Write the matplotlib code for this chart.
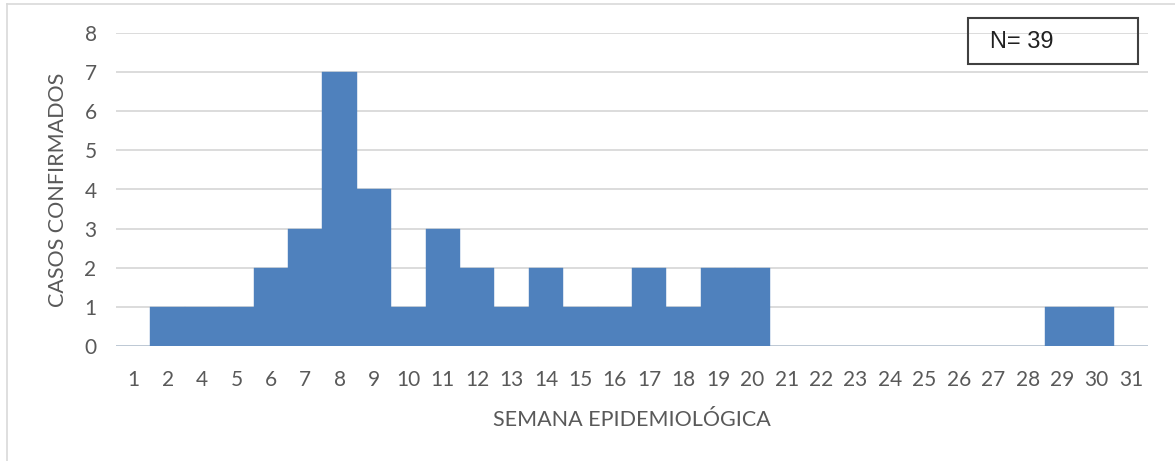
import matplotlib
matplotlib.use("Agg")
import matplotlib.pyplot as plt
from matplotlib.lines import Line2D

weeks = ["1", "2", "4", "5", "6", "7", "8", "9", "10", "11", "12", "13", "14", "15", "16",
         "17", "18", "19", "20", "21", "22", "23", "24", "25", "26", "27", "28", "29", "30", "31"]
cases = [0, 1, 1, 1, 2, 3, 7, 4, 1, 3, 2, 1, 2, 1, 1,
         2, 1, 2, 2, 0, 0, 0, 0, 0, 0, 0, 0, 1, 1, 0]
y_ticks = [0, 1, 2, 3, 4, 5, 6, 7, 8]
y_label = "CASOS CONFIRMADOS"
x_label = "SEMANA EPIDEMIOLÓGICA"
n_text = "N= 39"

W, H = 1175, 461
fig = plt.figure(figsize=(W / 100, H / 100), dpi=100)
ax = fig.add_axes([116 / W, 1 - 346 / H, (1148 - 116) / W, (346 - 33) / H])

x = list(range(len(weeks)))
ax.bar(x, cases, width=1.0, color="#4F81BD", edgecolor="#4F81BD", linewidth=0.3, zorder=3)

ax.set_xlim(-0.5, len(weeks) - 0.5)
ax.set_ylim(0, 8)
ax.set_yticks(y_ticks)
ax.set_xticks(x)
ax.set_xticklabels(weeks)
ax.grid(axis="y", color="#D9D9D9", linewidth=1.3, zorder=0)
ax.set_axisbelow(True)
for s in ax.spines.values():
    s.set_visible(False)
ax.tick_params(axis="both", length=0, labelsize=15, labelcolor="#595959")
ax.tick_params(axis="x", pad=17)
ax.tick_params(axis="y", pad=14)
for lab in ax.get_xticklabels() + ax.get_yticklabels():
    lab.set_family("Lato")

ax.set_ylabel(y_label, fontsize=15.5, color="#595959", family="Lato", labelpad=12)
ax.set_xlabel(x_label, fontsize=15.5, color="#595959", family="Lato", labelpad=15)

# N box
fig.text(990 / W, 1 - 42 / H, n_text, fontsize=17, family="Liberation Sans", color="#202020",
         va="center", ha="left")
rect = plt.Rectangle((968 / W, 1 - 64 / H), 170 / W, 46 / H, transform=fig.transFigure,
                     fill=False, edgecolor="#404040", linewidth=1.5)
fig.add_artist(rect)

# outer frame lines
fig.add_artist(Line2D([7 / W, 1], [1 - 4 / H, 1 - 4 / H], transform=fig.transFigure,
                      color="#D9D9D9", linewidth=1.2))
fig.add_artist(Line2D([7 / W, 7 / W], [0, 1 - 4 / H], transform=fig.transFigure,
                      color="#D9D9D9", linewidth=1.2))

fig.savefig("out.png", dpi=100)
